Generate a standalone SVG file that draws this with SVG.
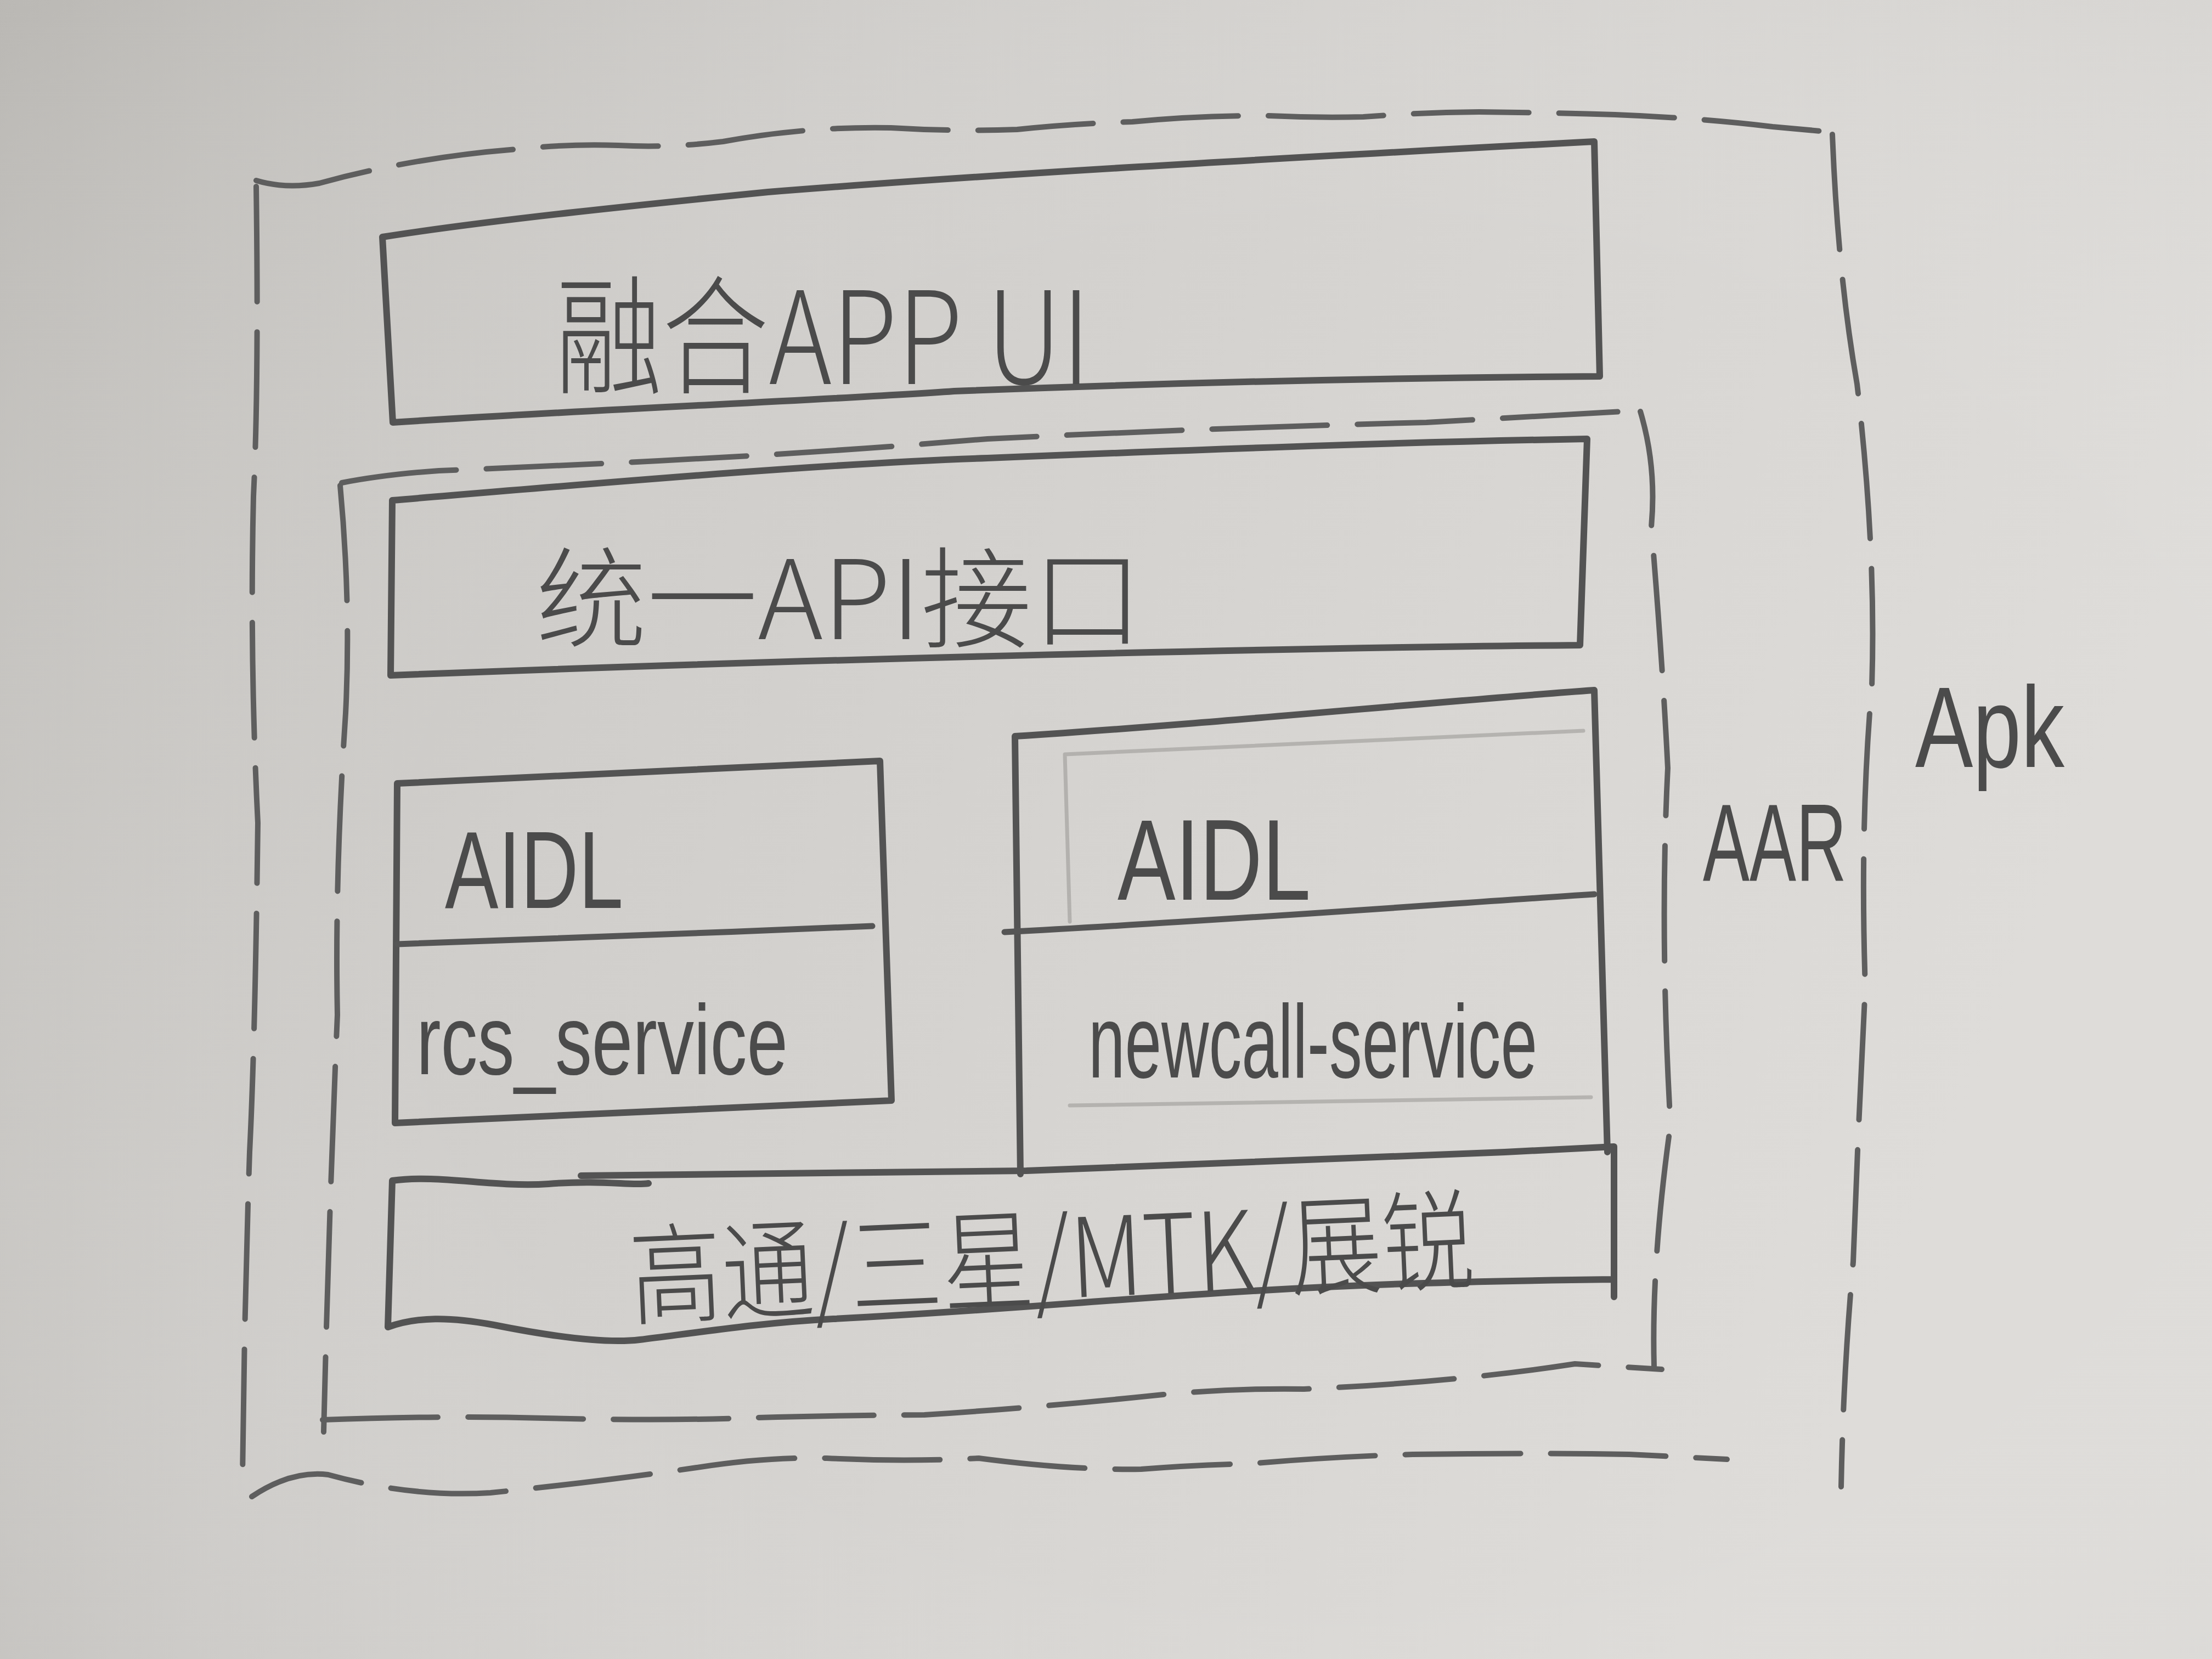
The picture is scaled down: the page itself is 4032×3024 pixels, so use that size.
<svg xmlns="http://www.w3.org/2000/svg" width="4032" height="3024" viewBox="0 0 4032 3024">
<defs>
<linearGradient id="paper" x1="0" y1="0" x2="1" y2="0.3">
<stop offset="0" stop-color="#c2c0bc"/>
<stop offset="0.35" stop-color="#d0cecb"/>
<stop offset="0.75" stop-color="#d9d7d4"/>
<stop offset="1" stop-color="#dedcd9"/>
</linearGradient>
<radialGradient id="vig" cx="0.6" cy="0.55" r="0.8">
<stop offset="0.5" stop-color="#ffffff" stop-opacity="0"/>
<stop offset="1" stop-color="#9a9894" stop-opacity="0.18"/>
</radialGradient>
<style>
.box{fill:none;stroke:#535353;stroke-width:12;stroke-linecap:round;stroke-linejoin:round}
.div{fill:none;stroke:#555555;stroke-width:11;stroke-linecap:round}
.dash{fill:none;stroke:#5e5e5e;stroke-width:10;stroke-linecap:round;stroke-dasharray:210 55}
.faint{fill:none;stroke:#9d9b98;stroke-width:7;stroke-linecap:round;opacity:0.6}
.lbl{font-family:"Liberation Sans","Noto Sans CJK SC",sans-serif;fill:#4b4b4b}
.cjk{font-family:"Noto Sans CJK SC","Liberation Sans",sans-serif;fill:#4b4b4b;font-weight:300}
</style>
</defs>
<rect width="4032" height="3024" fill="url(#paper)"/>
<rect width="4032" height="3024" fill="url(#vig)"/>

<g id="apk">
<path class="dash" d="M467,329 Q520,345 582,334 Q760,285 955,271 Q1040,262 1127,265 Q1220,270 1318,258 Q1470,230 1624,233 Q1740,240 1854,236 Q1960,225 2064,222 Q2190,210 2313,211 Q2400,215 2485,213 Q2590,205 2696,204 Q2820,205 2944,209 Q3100,215 3231,231 L3330,240"/>
<path class="dash" d="M3340,245 Q3350,500 3385,700 Q3420,1000 3412,1250 Q3390,1500 3400,1800 Q3385,2100 3378,2300 Q3360,2500 3356,2710"/>
<path class="dash" d="M459,2728 Q530,2680 598,2688 Q750,2730 894,2721 Q1100,2700 1270,2675 Q1400,2655 1507,2658 Q1650,2665 1784,2658 Q1950,2680 2080,2678 Q2180,2670 2278,2668 Q2430,2655 2575,2651 Q2800,2648 2970,2651 L3148,2660"/>
<path class="dash" d="M467,340 Q472,700 462,905 Q455,1200 470,1500 Q465,1900 455,2100 Q445,2400 442,2700"/>
<text class="lbl" x="3491" y="1398" font-size="210" textLength="272" lengthAdjust="spacingAndGlyphs">Apk</text>
</g>

<g id="aar">
<path class="dash" d="M623,880 Q700,865 800,858 Q1000,850 1200,840 Q1500,825 1800,800 Q2200,780 2600,770 L2995,748"/>
<path class="dash" d="M2990,750 Q3020,850 3010,960 Q3030,1200 3040,1400 Q3025,1700 3045,2050 Q3010,2300 3015,2490"/>
<path class="dash" d="M588,2588 Q800,2580 993,2585 Q1200,2590 1349,2585 Q1500,2580 1685,2579 Q1900,2565 2120,2542 Q2250,2530 2377,2532 Q2650,2520 2871,2486 L3029,2496"/>
<path class="dash" d="M620,885 Q640,1100 630,1300 Q610,1600 615,1850 Q600,2200 590,2610"/>
<text class="lbl" x="3104" y="1605" font-size="200" textLength="262" lengthAdjust="spacingAndGlyphs">AAR</text>
</g>

<g id="app-ui">
<path class="box" d="M697,432 C900,400 1200,370 1400,350 C1800,318 2300,290 2906,258 L2916,686 C2600,688 2200,695 1739,713 C1500,730 1100,745 716,770 Z"/>
<text class="cjk" x="1012" y="700" font-size="235" textLength="976" lengthAdjust="spacingAndGlyphs">融合APP UI</text>
</g>

<g id="unified-api">
<path class="box" d="M715,912 C1100,880 1500,845 1800,835 C2300,815 2600,805 2893,800 L2880,1176 C2400,1180 1500,1200 712,1231 Z"/>
<text class="cjk" x="977" y="1165" font-size="200" textLength="1106" lengthAdjust="spacingAndGlyphs">统一API接口</text>
</g>

<g id="rcs-service">
<path class="box" d="M724,1428 C1000,1415 1300,1400 1604,1387 L1625,2006 C1300,2020 1000,2035 720,2047 Z"/>
<path class="div" d="M724,1721 C1000,1712 1300,1700 1590,1688"/>
<text class="lbl" x="811" y="1655" font-size="200" textLength="325" lengthAdjust="spacingAndGlyphs">AIDL</text>
<text class="lbl" x="759" y="1958" font-size="180" textLength="677" lengthAdjust="spacingAndGlyphs">rcs_service</text>
</g>

<g id="newcall-service">
<path class="faint" d="M1941,1375 C2300,1360 2600,1345 2886,1332 M1941,1375 L1950,1680 M1950,2015 C2300,2010 2600,2005 2900,2000"/>
<path class="box" d="M1860,2140 L1850,1342 C2200,1320 2600,1280 2906,1258 L2930,2100"/>
<path class="div" d="M1831,1699 C2200,1680 2600,1650 2906,1630"/>
<text class="lbl" x="2037" y="1640" font-size="210" textLength="352" lengthAdjust="spacingAndGlyphs">AIDL</text>
<text class="lbl" x="1984" y="1964" font-size="190" textLength="818" lengthAdjust="spacingAndGlyphs">newcall-service</text>
</g>

<g id="chipset">
<path class="box" d="M715,2152 C800,2140 900,2165 1000,2158 C1100,2150 1150,2162 1182,2157 M1059,2143 C1400,2140 1700,2138 1871,2134 C2100,2125 2400,2112 2743,2100 L2942,2090 L2942,2364 M715,2152 L707,2419 C760,2400 820,2400 900,2415 C1000,2435 1100,2450 1166,2442 C1300,2425 1400,2410 1519,2404 C1800,2390 2000,2370 2284,2353 C2500,2340 2700,2335 2940,2332"/>
<text class="cjk" x="1151" y="2400" font-size="200" textLength="1540" lengthAdjust="spacingAndGlyphs" transform="rotate(-2.5 1151 2400)">高通/三星/MTK/展锐</text>
</g>

<g id="connectors"/>
</svg>
